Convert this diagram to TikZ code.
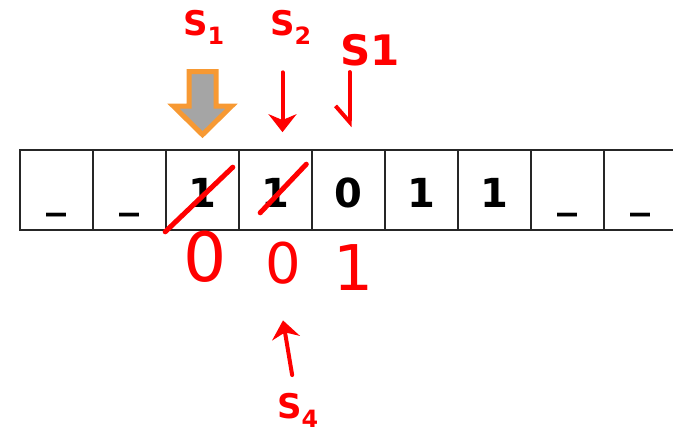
\documentclass[tikz,border=0pt]{standalone}
\usepackage{fontspec}
\setmainfont{DejaVu Sans}
\newfontfamily\penfont{DejaVu Sans}
\usepackage{tikz}
\usetikzlibrary{arrows.meta, positioning, calc}
\definecolor{PenRed}{RGB}{255,0,0}
\definecolor{HeadOrange}{RGB}{247,153,51}
\definecolor{HeadGray}{RGB}{165,165,165}

\begin{document}
\begin{tikzpicture}[x=1pt, y=-1pt,
    cell/.style={draw=black!85, line width=1.6pt, minimum width=73pt,
                 minimum height=80pt, inner sep=0pt, text height=36pt,
                 text depth=2pt, font=\fontsize{40}{42}\selectfont\bfseries},
    pen/.style={text=PenRed, inner sep=0pt,
                font=\penfont\bfseries\fontsize{34}{36}\selectfont},
    digit/.style={text=PenRed, inner sep=0pt},
    stroke/.style={draw=PenRed, line width=5pt, line cap=round},
    penarrow/.style={draw=PenRed, line width=4pt, line cap=round,
                     -{Stealth[length=18pt, width=28pt]}}
  ]
  \useasboundingbox (0,0) rectangle (673,447);

  % the tape
  \foreach \s [count=\i] in {\_,\_,1,1,0,1,1,\_,\_}
    \node[cell] (c\i) at ({73*\i-16.5},190) {\s};

  % head
  \begin{scope}[shift={(c3.north)}]
    \draw[draw=HeadOrange, fill=HeadGray, line width=5pt, miter limit=10]
      (-13.5,-77.5) -- (13.5,-77.5) -- (13.5,-43) -- (29,-43) -- (0,-14.5)
      -- (-29,-43) -- (-13.5,-43) -- cycle;
  \end{scope}

  % crossed out symbols
  \draw[stroke] ($(c3.south west)+(0,1)$) -- ($(c3.north east)+(-7,18)$);
  \draw[stroke] ($(c4.south west)+(22,-18)$) -- ($(c4.north east)+(-6.5,15)$);

  % states
  \node[pen] (s1) at (204,27) {S\textsubscript{1}};
  \node[pen] (s2) at (291,27) {S\textsubscript{2}};
  \node[pen, font=\penfont\bfseries\fontsize{42}{44}\selectfont] (s3) at (370,50) {S1};
  \node[pen] (s4) at (298,410) {S\textsubscript{4}};

  % written symbols
  \node[digit, font=\penfont\fontsize{68}{70}\selectfont] (w3) at (205,257) {0};
  \node[digit, font=\penfont\fontsize{56}{58}\selectfont] (w4) at (283,263) {0};
  \node[digit, font=\penfont\fontsize{63}{65}\selectfont] (w5) at (354,268) {1};

  \coordinate (h2) at ($(c4.north)+(7,-17)$);
  \coordinate (h3) at ($(c5.north)+(1,-22)$);
  \coordinate (h4) at ($(w4.south)+(0,36)$);
  \draw[penarrow, shorten <=28pt] (s2.south -| h2) -- (h2);
  \draw[penarrow, shorten <=6pt, -{Straight Barb[right, length=16pt, width=28pt]}]
    (s3.south -| h3) -- (h3);
  \draw[penarrow, shorten <=18pt] (s4) -- (h4);
\end{tikzpicture}
\end{document}
